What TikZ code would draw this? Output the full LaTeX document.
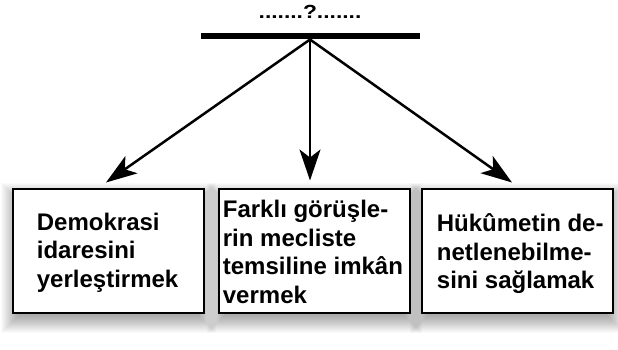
\documentclass[tikz,border=0pt]{standalone}
\usepackage{fontspec}
\setmainfont{Liberation Sans}
\usepackage{graphicx}
\usetikzlibrary{arrows.meta}
\newcommand\mystrut{\rule{0pt}{19pt}}
\tikzset{
  box/.style={draw=black, line width=2pt, fill=white, inner sep=0pt,
    minimum width=191pt, minimum height=124pt},
  boxtext/.style={inner sep=0pt, anchor=north west, align=left,
    font=\fontsize{24}{28.5}\selectfont\bfseries},
  conn/.style={line width=2.5pt, -{Stealth[length=31pt,width=21pt,inset=8pt]}},
  softshade/.style={fill=black, fill opacity=0.018, draw=none},
}
\begin{document}
\begin{tikzpicture}[x=1pt,y=-1pt]
\fill[white] (0,0) rectangle (618,349);
\useasboundingbox (0,0) rectangle (618,349);
% soft shadow behind the boxes
\foreach \cx in {108.5,314.5,517.5}{
  \foreach \r in {1,...,18}{
    \fill[softshade] (\cx-95.5-\r+6, 188.5-\r+12) rectangle (\cx+95.5+\r-6, 312.5+\r+2);
  }
}
\node[font=\fontsize{19}{22}\selectfont\bfseries, inner sep=0pt, anchor=base] (title) at (310,18.3) {\scalebox{1.2}[1]{.......?.......}};
\node[fill=black, minimum width=219pt, minimum height=6pt, inner sep=0pt] (bar) at (310.5,36.3) {};
\node[box] (b1) at (108.5,250.5) {};
\node[box] (b2) at (314.5,250.5) {};
\node[box] (b3) at (517.5,250.5) {};
\node[boxtext] (t1) at (36.7,211) {\mystrut Demokrasi\\idaresini\\yerleştirmek};
\node[boxtext] (t2) at (222.7,198.3) {\mystrut Farklı görüşle-\\rin mecliste\\temsiline imkân\\vermek};
\node[boxtext] (t3) at (436.7,212.7) {\mystrut Hükûmetin de-\\netlenebilme-\\sini sağlamak};
\draw[conn] ([xshift=-0.5pt]bar.south) -- ([xshift=-2.5pt,yshift=5pt]b1.north);
\draw[conn] ([xshift=-0.5pt]bar.south) -- ([xshift=-4.5pt,yshift=7pt]b2.north);
\draw[conn] ([xshift=-0.5pt]bar.south) -- ([xshift=-5.5pt,yshift=5pt]b3.north);
\end{tikzpicture}
\end{document}
